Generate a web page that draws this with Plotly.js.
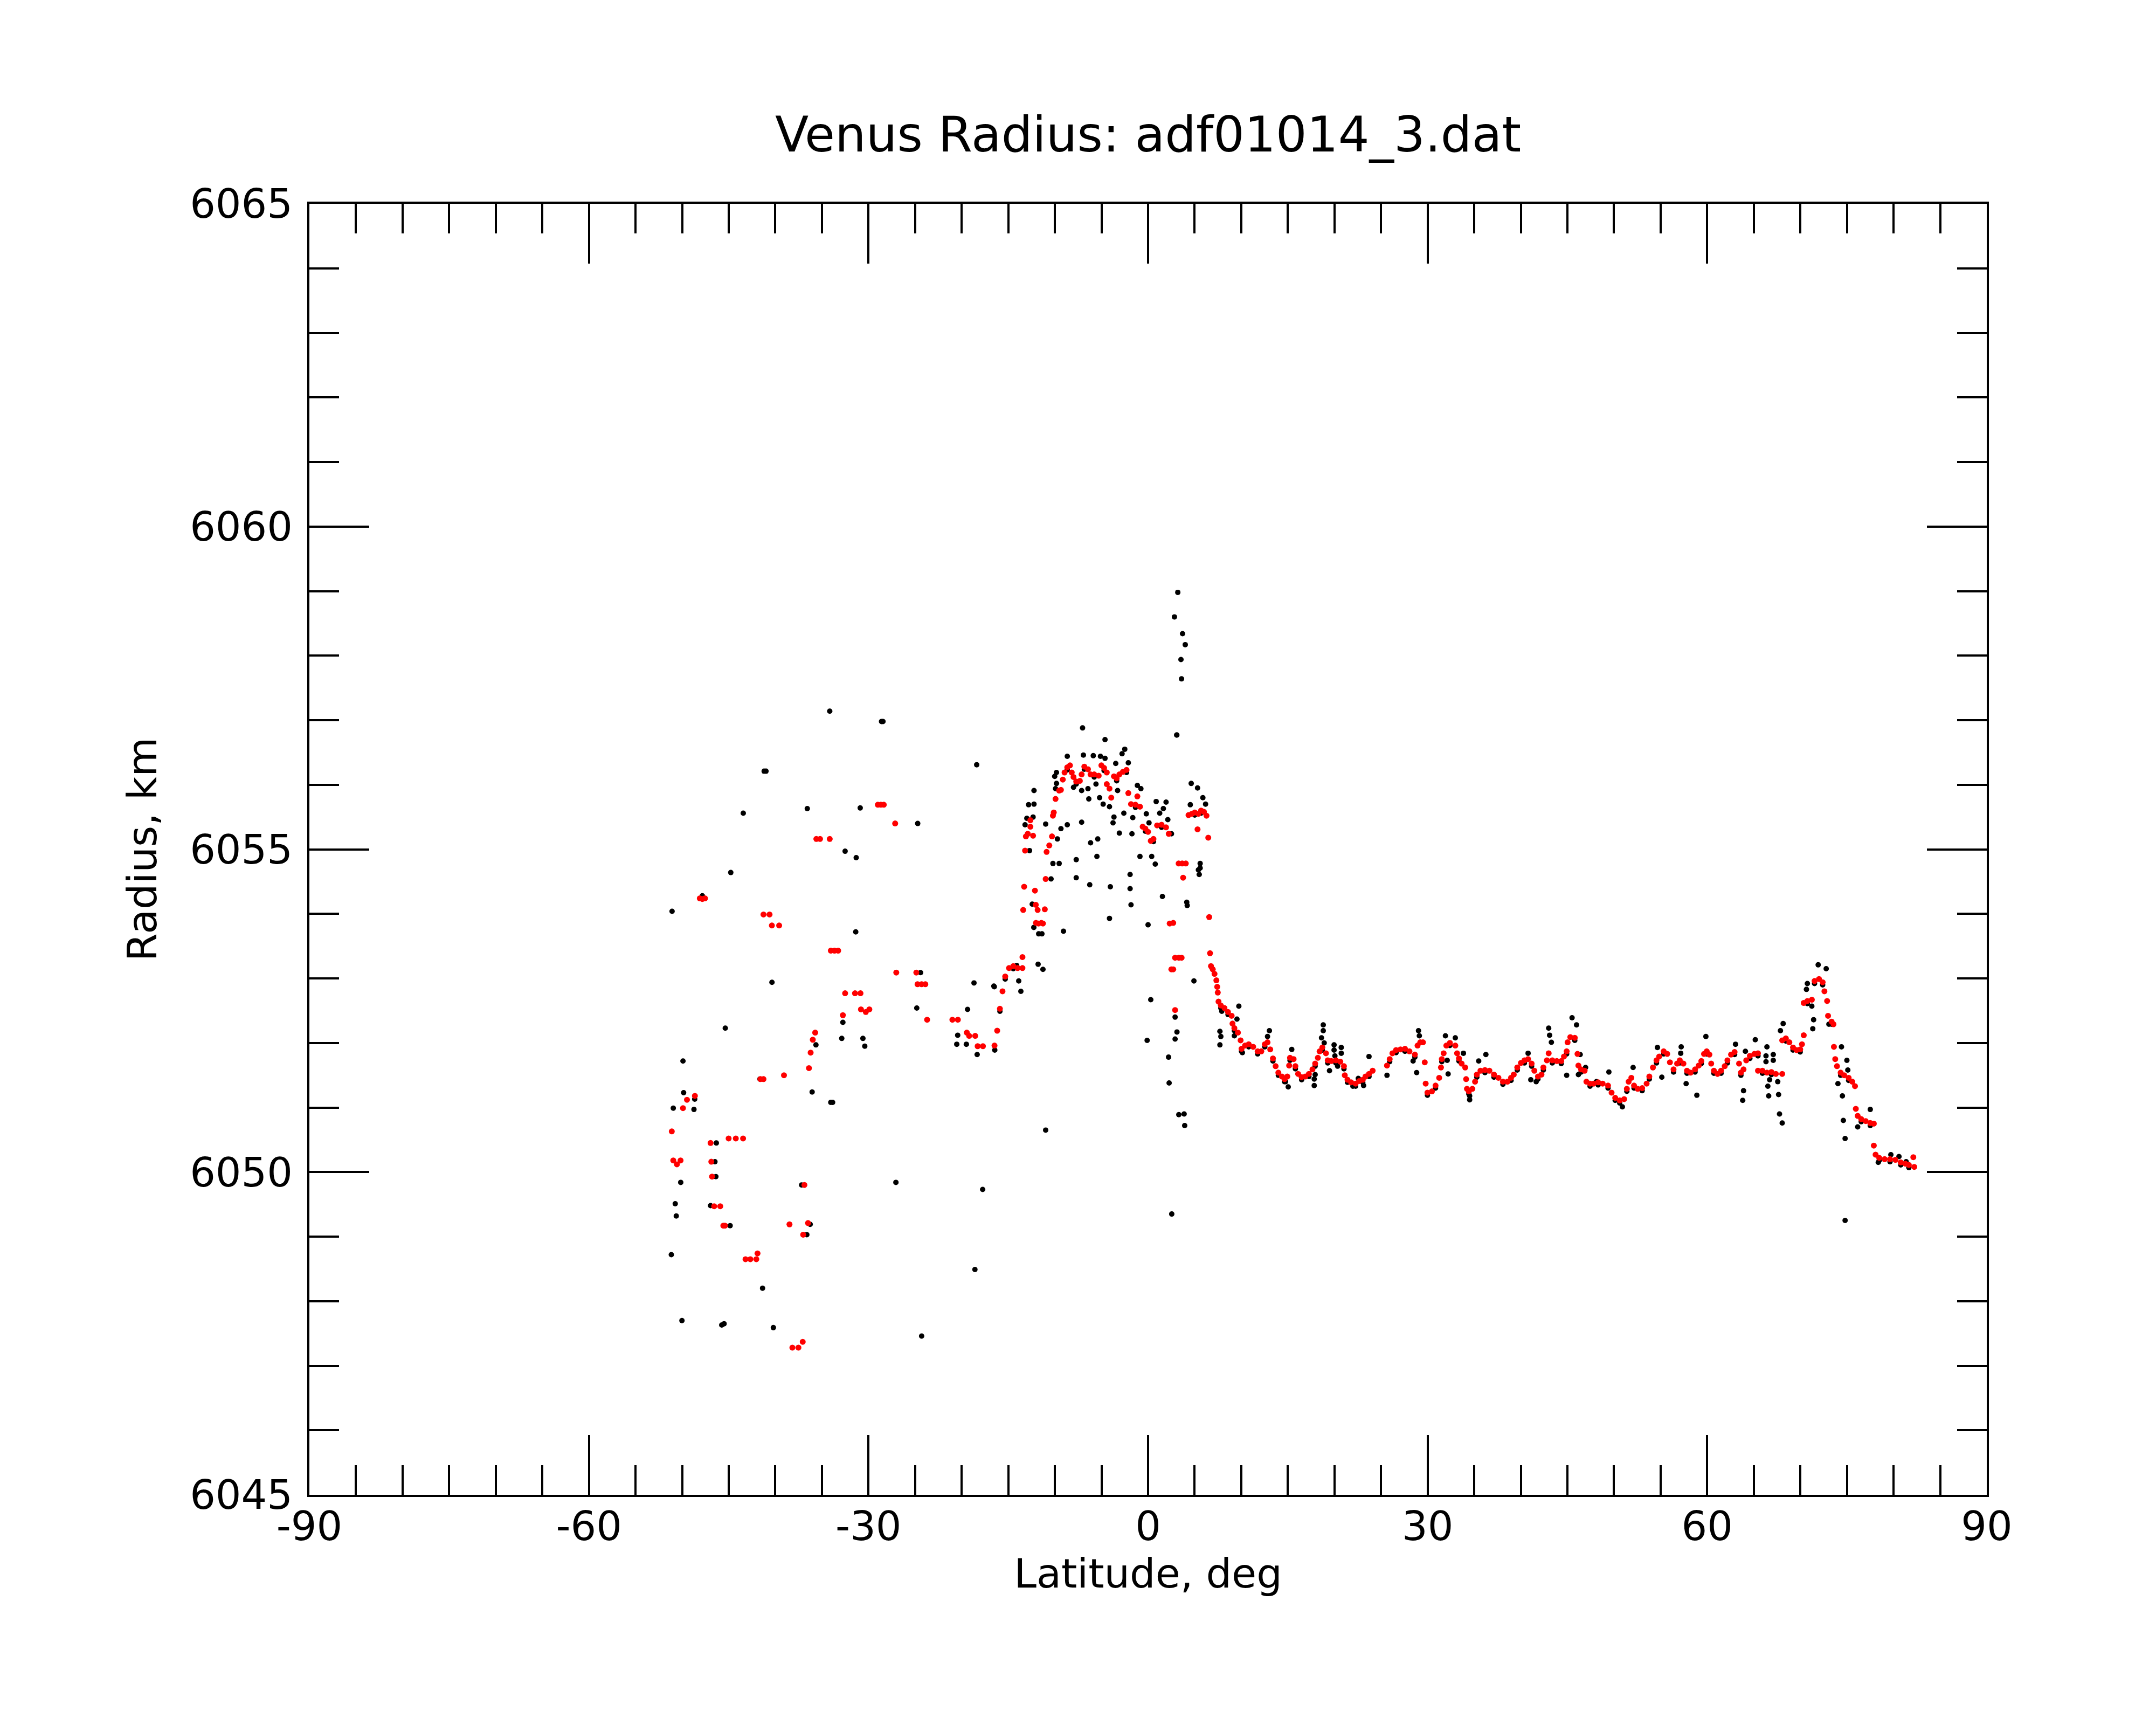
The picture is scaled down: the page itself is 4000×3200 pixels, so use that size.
<!DOCTYPE html>
<html>
<head>
<meta charset="utf-8">
<script src="https://cdn.plot.ly/plotly-3.0.1.min.js"></script>
<style>
  html, body { margin: 0; padding: 0; background: #fff; }
  #plot { width: 4000px; height: 3200px; }
</style>
</head>
<body>
<div id="plot"></div>
<script>
// Axis ticks
var xTickVals = [-90, -60, -30, 0, 30, 60, 90];
var xTickText = ["-90", "-60", "-30", "0", "30", "60", "90"];
var yTickVals = [6045, 6050, 6055, 6060, 6065];
var yTickText = ["6045", "6050", "6055", "6060", "6065"];

// Raw radius points, [latitude deg, radius km] (black)
var rawSouth = [
  [-34.16, 6057.14], [-28.60, 6056.98], [-28.45, 6056.98], [-18.39, 6056.31], [-41.20, 6056.21],
  [-41.00, 6056.21], [-36.57, 6055.63], [-30.89, 6055.64], [-43.44, 6055.56], [-24.72, 6055.40],
  [-32.51, 6054.97], [-31.32, 6054.87], [-44.78, 6054.64], [-51.08, 6054.04], [-47.83, 6054.28],
  [-31.37, 6053.72], [-40.36, 6052.94], [-24.41, 6053.09], [-18.68, 6052.93], [-16.55, 6052.88],
  [-24.82, 6052.54], [-19.37, 6052.52], [-45.37, 6052.23], [-32.75, 6052.32], [-32.87, 6052.07],
  [-30.60, 6052.07], [-30.40, 6051.95], [-35.64, 6051.97], [-20.43, 6052.12], [-20.53, 6051.98],
  [-19.50, 6051.98], [-18.34, 6051.82], [-16.45, 6051.89], [-49.91, 6051.72], [-49.84, 6051.23],
  [-50.95, 6050.99], [-48.73, 6050.97], [-48.65, 6051.13], [-36.05, 6051.24], [-34.05, 6051.08],
  [-33.85, 6051.08], [-41.65, 6051.44], [-46.33, 6050.45], [-46.48, 6050.16], [-46.38, 6049.93],
  [-50.15, 6049.84], [-50.74, 6049.51], [-50.63, 6049.32], [-46.95, 6049.48], [-44.85, 6049.17],
  [-37.18, 6049.80], [-36.26, 6049.19], [-36.62, 6049.03], [-27.06, 6049.84], [-17.75, 6049.73],
  [-51.16, 6048.72], [-41.37, 6048.20], [-18.58, 6048.49], [-50.02, 6047.70], [-45.75, 6047.63],
  [-45.50, 6047.65], [-40.21, 6047.59], [-24.30, 6047.46], [-16.50, 6052.87], [-15.90, 6052.49],
  [-15.33, 6052.99], [-14.46, 6053.15], [-14.10, 6053.20], [-13.88, 6052.96], [-13.65, 6052.80]
];

var rawEquator = [
  [-11.80, 6053.22], [-11.28, 6053.14], [-10.99, 6050.65], [-9.08, 6053.73], [-12.26, 6053.79],
  [-11.74, 6053.69], [-11.39, 6053.69], [-7.03, 6056.88], [-4.62, 6056.70], [3.09, 6056.77],
  [-2.50, 6056.55], [-2.79, 6056.48], [-8.67, 6056.44], [-6.94, 6056.46], [-5.88, 6056.45],
  [-5.11, 6056.44], [-4.62, 6056.41], [-2.12, 6056.34], [-3.47, 6056.33], [-9.83, 6056.19],
  [-10.02, 6056.13], [-9.83, 6056.02], [-9.93, 6055.94], [-8.00, 6055.96], [-7.13, 6055.91],
  [-6.45, 6055.94], [-5.59, 6056.01], [-12.24, 6055.91], [-12.82, 6055.69], [-12.24, 6055.70],
  [-13.01, 6055.48], [-12.34, 6055.50], [-13.20, 6055.38], [-12.72, 6054.98], [-10.99, 6055.39],
  [-9.35, 6055.32], [-8.67, 6055.38], [-7.13, 6055.42], [-9.73, 6055.16], [-6.36, 6055.78],
  [-5.20, 6055.80], [-4.82, 6055.70], [-4.14, 6055.66], [-3.27, 6055.91], [-2.60, 6055.56],
  [-1.64, 6055.49], [-3.66, 6055.50], [-3.76, 6055.41], [-1.15, 6055.99], [-0.77, 6055.94],
  [-3.08, 6055.25], [-1.73, 6055.24], [-6.17, 6055.10], [-5.40, 6055.16], [-10.21, 6054.78],
  [-9.54, 6054.78], [-7.71, 6054.84], [-5.49, 6054.89], [-7.71, 6054.56], [-10.41, 6054.54],
  [-6.26, 6054.45], [-4.05, 6054.42], [-1.93, 6054.61], [-1.93, 6054.39], [-1.83, 6054.14],
  [-4.14, 6053.93], [-0.87, 6054.89], [0.39, 6054.89], [0.77, 6054.77], [0.00, 6053.83],
  [1.54, 6054.27], [4.15, 6054.18], [4.20, 6054.13], [0.87, 6055.74], [1.93, 6055.73],
  [1.64, 6055.63], [1.25, 6055.56], [-0.19, 6055.55], [2.12, 6055.46], [0.10, 6055.41],
  [2.51, 6055.24], [4.63, 6056.02], [5.31, 6055.95], [5.88, 6055.80], [6.17, 6055.70],
  [4.53, 6055.69], [5.59, 6054.78], [5.59, 6054.71], [5.49, 6054.61], [5.40, 6054.68],
  [-12.43, 6054.15], [3.19, 6058.98], [2.83, 6058.60], [3.70, 6058.34], [3.99, 6058.17],
  [3.53, 6057.94], [3.59, 6057.64], [3.07, 6056.77], [2.54, 6049.35], [2.20, 6051.78],
  [2.26, 6051.38], [3.30, 6050.89], [3.87, 6050.90], [3.93, 6050.72], [4.92, 6052.96],
  [-0.10, 6052.04], [0.29, 6052.67], [2.90, 6052.40], [3.10, 6052.17], [2.90, 6052.06],
  [-8.67, 6056.23], [-7.71, 6056.01], [-6.84, 6056.24], [-5.78, 6056.12], [-4.72, 6056.22],
  [-3.37, 6056.06], [-2.31, 6056.19], [-1.35, 6055.65], [-0.29, 6055.28], [0.58, 6055.12],
  [1.45, 6055.34], [5.01, 6055.53], [5.69, 6055.56]
];

var rawNorth = [
  [7.71, 6052.18], [7.81, 6052.10], [7.71, 6051.97], [9.74, 6052.57], [9.54, 6052.37],
  [9.26, 6052.11], [7.91, 6052.49], [13.02, 6052.19], [12.82, 6052.10], [10.12, 6051.85],
  [15.04, 6051.32], [14.75, 6051.40], [15.42, 6051.90], [17.83, 6051.34], [17.83, 6051.44],
  [17.93, 6051.51], [18.80, 6052.28], [18.80, 6052.19], [18.61, 6052.08], [18.90, 6052.00],
  [19.96, 6051.97], [19.96, 6051.89], [20.05, 6051.80], [20.73, 6051.93], [20.73, 6051.84],
  [19.47, 6051.57], [20.34, 6051.64], [23.71, 6051.79], [25.64, 6051.50], [28.82, 6051.54],
  [29.02, 6052.19], [29.11, 6052.11], [28.44, 6051.72], [22.56, 6051.45], [21.98, 6051.33],
  [23.13, 6051.34], [31.91, 6052.11], [32.97, 6052.08], [32.10, 6051.73], [32.20, 6051.52],
  [33.84, 6051.84], [34.51, 6051.12], [34.51, 6051.18], [36.25, 6051.82], [35.48, 6051.72],
  [40.78, 6051.84], [41.07, 6051.43], [41.65, 6051.40], [42.99, 6052.23], [43.09, 6052.12],
  [43.28, 6052.01], [45.50, 6052.39], [45.98, 6052.28], [44.92, 6051.50], [46.18, 6051.51],
  [46.37, 6051.82], [46.95, 6051.62], [49.45, 6051.55], [48.11, 6051.40], [50.90, 6051.01],
  [52.05, 6051.62], [54.66, 6051.93], [59.86, 6052.10], [57.21, 6051.94], [57.16, 6051.84],
  [57.74, 6051.37], [58.89, 6051.19], [55.13, 6051.47], [63.04, 6051.98], [65.16, 6052.05],
  [64.10, 6051.87], [66.41, 6051.94], [66.31, 6051.80], [66.31, 6051.71], [67.09, 6051.82],
  [67.09, 6051.73], [66.70, 6051.43], [66.51, 6051.33], [67.57, 6051.40], [63.90, 6051.26],
  [63.81, 6051.11], [66.60, 6051.18], [67.66, 6051.20], [67.76, 6050.90], [68.05, 6050.76],
  [68.15, 6052.30], [67.86, 6052.19], [70.75, 6052.92], [70.65, 6052.83], [71.91, 6053.21],
  [72.77, 6053.15], [71.23, 6052.57], [71.42, 6052.36], [71.33, 6052.22], [73.06, 6052.29],
  [74.41, 6051.94], [74.99, 6051.73], [75.09, 6051.58], [74.03, 6051.37], [74.51, 6051.18],
  [74.61, 6050.80], [74.80, 6050.52], [77.50, 6050.97], [76.15, 6050.70], [78.36, 6050.15],
  [79.71, 6050.27], [80.58, 6050.24], [81.35, 6050.16], [74.80, 6049.25],
  [7.81, 6052.54], [8.58, 6052.44], [9.26, 6052.19], [10.03, 6051.87], [10.80, 6051.94],
  [11.76, 6051.83], [12.53, 6051.94], [13.40, 6051.72], [13.98, 6051.50], [14.65, 6051.40],
  [15.23, 6051.73], [15.81, 6051.60], [16.48, 6051.43], [17.26, 6051.48], [17.93, 6051.64],
  [18.70, 6051.89], [19.28, 6051.69], [20.15, 6051.69], [21.02, 6051.60], [21.40, 6051.39],
  [22.27, 6051.33], [23.04, 6051.39], [23.71, 6051.48], [25.93, 6051.71], [26.61, 6051.85],
  [27.57, 6051.87], [28.63, 6051.78], [29.98, 6051.19], [30.85, 6051.30], [31.52, 6051.71],
  [32.39, 6051.96], [33.36, 6051.72], [34.42, 6051.21], [35.28, 6051.47], [36.15, 6051.54],
  [37.12, 6051.47], [38.08, 6051.36], [38.95, 6051.42], [39.62, 6051.58], [40.39, 6051.69],
  [41.16, 6051.64], [41.84, 6051.44], [42.42, 6051.58], [43.38, 6051.69], [44.34, 6051.68],
  [44.92, 6051.83], [45.79, 6052.04], [46.47, 6051.55], [47.43, 6051.33], [48.30, 6051.35],
  [49.36, 6051.30], [50.13, 6051.11], [50.61, 6051.07], [51.38, 6051.25], [52.15, 6051.30],
  [53.02, 6051.26], [53.79, 6051.44], [54.56, 6051.69], [55.33, 6051.83], [56.39, 6051.55],
  [57.06, 6051.69], [57.83, 6051.53], [58.70, 6051.55], [59.37, 6051.68], [59.95, 6051.83],
  [60.72, 6051.53], [61.49, 6051.53], [62.17, 6051.69], [62.94, 6051.82], [63.62, 6051.50],
  [64.58, 6051.76], [65.45, 6051.80], [65.93, 6051.53], [66.89, 6051.51], [68.44, 6052.03],
  [69.21, 6051.89], [69.98, 6051.86], [70.75, 6052.61], [71.52, 6052.92], [72.39, 6052.90],
  [73.35, 6052.29], [74.32, 6051.50], [75.18, 6051.42], [76.53, 6050.78], [77.50, 6050.72],
  [78.46, 6050.18], [79.62, 6050.16], [80.77, 6050.11], [81.64, 6050.07]
];

// Smoothed radius points (red)
var smoothSouth = [
  [-51.11, 6050.63], [-50.95, 6050.18], [-50.56, 6050.12], [-50.17, 6050.18], [-49.91, 6050.99],
  [-49.48, 6051.12], [-48.63, 6051.18], [-48.10, 6054.24], [-47.83, 6054.23], [-47.55, 6054.24],
  [-46.95, 6050.45], [-46.87, 6050.16], [-46.79, 6049.93], [-46.56, 6049.47], [-45.91, 6049.47],
  [-45.58, 6049.17], [-45.40, 6049.17], [-45.01, 6050.52], [-44.24, 6050.52], [-43.46, 6050.52],
  [-43.20, 6048.65], [-42.68, 6048.65], [-42.04, 6048.65], [-41.91, 6048.74], [-41.60, 6051.44],
  [-41.27, 6051.44], [-41.27, 6053.99], [-40.62, 6053.99], [-40.37, 6053.82], [-39.59, 6053.82],
  [-39.07, 6051.50], [-38.48, 6049.19], [-38.17, 6047.28], [-37.52, 6047.28], [-37.06, 6047.37],
  [-37.01, 6049.03], [-36.88, 6049.80], [-36.49, 6049.21], [-36.39, 6051.61], [-36.21, 6051.85],
  [-35.98, 6052.05], [-35.72, 6052.16], [-35.60, 6055.16], [-35.20, 6055.16], [-34.16, 6055.16],
  [-34.04, 6053.43], [-33.65, 6053.43], [-33.26, 6053.43], [-32.75, 6052.43], [-32.51, 6052.77],
  [-31.45, 6052.77], [-30.86, 6052.77], [-30.81, 6052.52], [-30.29, 6052.48], [-29.91, 6052.52],
  [-29.00, 6055.69], [-28.68, 6055.69], [-28.36, 6055.69], [-27.14, 6055.40], [-27.02, 6053.09],
  [-24.87, 6053.09], [-24.74, 6052.91], [-24.30, 6052.91], [-23.90, 6052.91], [-23.71, 6052.36],
  [-21.00, 6052.36], [-20.41, 6052.36], [-19.45, 6052.16], [-19.20, 6052.11], [-18.55, 6052.11],
  [-18.29, 6051.95], [-17.72, 6051.95], [-16.48, 6051.96], [-16.19, 6052.19], [-15.90, 6052.53],
  [-15.62, 6052.80], [-15.33, 6053.03], [-14.92, 6053.16], [-14.46, 6053.19], [-14.00, 6053.16],
  [-13.48, 6053.16], [-13.48, 6053.33]
];

var smoothEquator = [
  [-13.40, 6054.06], [-13.30, 6054.42], [-13.20, 6054.98], [-13.11, 6055.20], [-12.91, 6055.24],
  [-12.63, 6055.35], [-12.63, 6055.45], [-12.34, 6055.21], [-12.14, 6054.36], [-12.05, 6054.14],
  [-12.03, 6053.86], [-11.85, 6054.06], [-11.76, 6053.85], [-11.45, 6053.86], [-11.28, 6053.85],
  [-11.08, 6054.07], [-10.99, 6054.54], [-10.89, 6054.96], [-10.60, 6055.06], [-10.31, 6055.20],
  [-10.21, 6055.52], [-10.12, 6055.57], [-9.93, 6055.78], [-9.54, 6055.91], [-9.35, 6055.92],
  [-9.15, 6056.08], [-8.96, 6056.19], [-8.67, 6056.27], [-8.38, 6056.30], [-8.19, 6056.19],
  [-8.00, 6056.12], [-7.71, 6056.05], [-7.32, 6056.06], [-7.13, 6056.16], [-6.84, 6056.28],
  [-6.45, 6056.24], [-6.17, 6056.16], [-5.78, 6056.16], [-5.30, 6056.14], [-5.01, 6056.30],
  [-4.72, 6056.26], [-4.43, 6056.19], [-4.43, 6056.01], [-4.14, 6055.94], [-3.95, 6055.80],
  [-3.66, 6056.13], [-3.37, 6056.10], [-3.08, 6056.16], [-2.70, 6056.20], [-2.31, 6056.23],
  [-2.12, 6055.87], [-1.83, 6055.70], [-1.35, 6055.69], [-1.15, 6055.82], [-0.87, 6055.66],
  [-0.58, 6055.35], [-0.29, 6055.32], [0.00, 6055.27], [0.29, 6055.13], [0.58, 6055.16],
  [0.97, 6055.37], [1.45, 6055.38], [1.93, 6055.34], [2.22, 6055.24], [2.32, 6053.85],
  [2.70, 6053.86], [2.50, 6053.14], [2.70, 6053.14], [2.90, 6053.32], [3.30, 6053.32],
  [3.60, 6053.32], [2.90, 6052.51], [3.28, 6054.78], [3.66, 6054.78], [4.05, 6054.78],
  [3.76, 6054.56], [4.34, 6055.53], [4.70, 6055.55], [5.01, 6055.57], [5.31, 6055.31],
  [5.40, 6055.55], [5.69, 6055.60], [6.00, 6055.58], [6.27, 6055.52], [6.46, 6055.18],
  [6.56, 6053.95]
];

var smoothNorth = [
  [6.65, 6053.39], [6.75, 6053.19], [6.94, 6053.14], [7.13, 6053.07], [7.33, 6052.97],
  [7.42, 6052.87], [7.48, 6052.78], [7.56, 6052.64], [7.81, 6052.58], [8.20, 6052.54],
  [8.58, 6052.48], [8.97, 6052.42], [9.06, 6052.30], [9.26, 6052.23], [9.64, 6052.16],
  [9.93, 6052.04], [10.03, 6051.91], [10.41, 6051.96], [10.80, 6051.98], [11.28, 6051.94],
  [11.76, 6051.87], [12.15, 6051.87], [12.53, 6051.98], [12.82, 6052.01], [13.11, 6051.90],
  [13.40, 6051.76], [13.69, 6051.64], [13.98, 6051.54], [14.36, 6051.48], [14.65, 6051.44],
  [14.94, 6051.48], [15.14, 6051.65], [15.23, 6051.77], [15.62, 6051.75], [15.81, 6051.64],
  [16.10, 6051.52], [16.48, 6051.47], [16.87, 6051.48], [17.26, 6051.52], [17.64, 6051.59],
  [17.93, 6051.68], [18.22, 6051.77], [18.41, 6051.87], [18.70, 6051.93], [19.09, 6051.84],
  [19.28, 6051.73], [19.67, 6051.72], [20.15, 6051.73], [20.63, 6051.71], [21.02, 6051.64],
  [21.11, 6051.50], [21.40, 6051.43], [21.79, 6051.39], [22.27, 6051.37], [22.65, 6051.41],
  [23.04, 6051.43], [23.33, 6051.48], [23.71, 6051.52], [24.10, 6051.57], [25.64, 6051.65],
  [25.93, 6051.75], [26.22, 6051.84], [26.61, 6051.89], [27.09, 6051.90], [27.57, 6051.91],
  [28.05, 6051.87], [28.63, 6051.82], [28.92, 6051.96], [29.21, 6052.01], [29.50, 6052.01],
  [29.69, 6051.70], [29.79, 6051.37], [29.98, 6051.23], [30.46, 6051.25], [30.85, 6051.34],
  [31.24, 6051.46], [31.43, 6051.62], [31.52, 6051.75], [31.72, 6051.84], [32.01, 6051.96],
  [32.39, 6052.00], [32.97, 6051.96], [33.16, 6051.84], [33.36, 6051.76], [33.65, 6051.68],
  [34.03, 6051.62], [34.13, 6051.44], [34.22, 6051.29], [34.42, 6051.25], [34.80, 6051.29],
  [35.09, 6051.40], [35.28, 6051.51], [35.67, 6051.57], [36.15, 6051.58], [36.63, 6051.57],
  [37.12, 6051.51], [37.60, 6051.46], [38.08, 6051.40], [38.56, 6051.40], [38.95, 6051.46],
  [39.24, 6051.51], [39.62, 6051.62], [40.01, 6051.69], [40.39, 6051.73], [40.78, 6051.75],
  [41.16, 6051.68], [41.45, 6051.57], [41.84, 6051.48], [42.22, 6051.51], [42.42, 6051.62],
  [42.80, 6051.73], [42.99, 6051.84], [43.38, 6051.73], [43.86, 6051.72], [44.34, 6051.72],
  [44.63, 6051.79], [44.92, 6051.87], [45.02, 6052.01], [45.31, 6052.09], [45.79, 6052.08],
  [46.08, 6051.83], [46.18, 6051.65], [46.47, 6051.59], [46.85, 6051.57], [47.04, 6051.40],
  [47.43, 6051.37], [47.82, 6051.37], [48.30, 6051.39], [48.78, 6051.37], [49.36, 6051.34],
  [49.74, 6051.23], [50.13, 6051.15], [50.61, 6051.11], [51.09, 6051.13], [51.38, 6051.29],
  [51.57, 6051.40], [51.86, 6051.46], [52.15, 6051.34], [52.54, 6051.29], [53.02, 6051.30],
  [53.50, 6051.37], [53.79, 6051.48], [54.18, 6051.62], [54.56, 6051.73], [54.85, 6051.79],
  [55.33, 6051.87], [55.71, 6051.83], [56.00, 6051.70], [56.39, 6051.59], [56.77, 6051.68],
  [57.06, 6051.73], [57.45, 6051.68], [57.83, 6051.57], [58.22, 6051.54], [58.70, 6051.59],
  [59.09, 6051.65], [59.37, 6051.72], [59.66, 6051.83], [59.95, 6051.87], [60.24, 6051.82],
  [60.43, 6051.68], [60.72, 6051.57], [61.11, 6051.52], [61.49, 6051.57], [61.88, 6051.64],
  [62.17, 6051.73], [62.56, 6051.82], [62.94, 6051.86], [63.42, 6051.68], [63.62, 6051.54],
  [63.90, 6051.59], [64.19, 6051.73], [64.58, 6051.80], [65.06, 6051.83], [65.45, 6051.84],
  [65.45, 6051.57], [65.93, 6051.57], [66.41, 6051.54], [66.89, 6051.55], [67.37, 6051.52],
  [68.05, 6051.52], [68.05, 6052.04], [68.44, 6052.07], [68.82, 6052.01], [69.21, 6051.93],
  [69.59, 6051.89], [69.98, 6051.90], [70.17, 6051.98], [70.36, 6052.12], [70.36, 6052.62],
  [70.75, 6052.65], [71.23, 6052.67], [71.52, 6052.96], [72.00, 6052.99], [72.39, 6052.94],
  [72.58, 6052.80], [72.87, 6052.65], [72.97, 6052.42], [73.35, 6052.33], [73.55, 6052.29],
  [73.60, 6051.94], [73.74, 6051.75], [73.93, 6051.64], [74.32, 6051.54], [74.70, 6051.50],
  [75.18, 6051.46], [75.57, 6051.40], [75.86, 6051.33], [75.95, 6050.98], [76.15, 6050.87],
  [76.53, 6050.82], [77.01, 6050.79], [77.50, 6050.76], [77.88, 6050.75], [77.88, 6050.41],
  [78.07, 6050.27], [78.46, 6050.22], [79.04, 6050.20], [79.62, 6050.20], [80.20, 6050.19],
  [80.77, 6050.15], [81.26, 6050.13], [81.64, 6050.11], [82.12, 6050.23], [82.22, 6050.08]
];

var raw = rawSouth.concat(rawEquator, rawNorth);
var smooth = smoothSouth.concat(smoothEquator, smoothNorth);

var traceRaw = {
  x: raw.map(function (p) { return p[0]; }),
  y: raw.map(function (p) { return p[1]; }),
  type: 'scatter',
  mode: 'markers',
  marker: { color: '#000000', size: 10 },
  hoverinfo: 'x+y'
};

var traceSmooth = {
  x: smooth.map(function (p) { return p[0]; }),
  y: smooth.map(function (p) { return p[1]; }),
  type: 'scatter',
  mode: 'markers',
  marker: { color: '#ff0000', size: 11 },
  hoverinfo: 'x+y'
};

var tickFont = { family: 'DejaVu Sans', size: 75, color: '#000000' };

var layout = {
  width: 4000,
  height: 3200,
  paper_bgcolor: '#ffffff',
  plot_bgcolor: '#ffffff',
  showlegend: false,
  margin: { l: 574, r: 314, t: 378, b: 427 },
  font: { family: 'DejaVu Sans', color: '#000000' },
  title: {
    text: 'Venus Radius: adf01014_3.dat',
    font: { family: 'DejaVu Sans', size: 91, color: '#000000' },
    x: 0.5325,
    xanchor: 'center',
    y: 0.922,
    yanchor: 'middle'
  },
  xaxis: {
    range: [-90, 90],
    tickmode: 'array',
    tickvals: xTickVals,
    ticktext: xTickText,
    ticks: 'inside',
    ticklen: 111,
    tickwidth: 4,
    tickcolor: '#000000',
    minor: { dtick: 5, ticks: 'inside', ticklen: 55, tickwidth: 4, tickcolor: '#000000', showgrid: false },
    mirror: 'ticks',
    showline: true,
    linewidth: 4,
    linecolor: '#000000',
    showgrid: false,
    zeroline: false,
    tickfont: tickFont,
    ticklabelstandoff: -10,
    title: { text: 'Latitude, deg', font: tickFont, standoff: 2 }
  },
  yaxis: {
    range: [6045, 6065],
    tickmode: 'array',
    tickvals: yTickVals,
    ticktext: yTickText,
    ticks: 'inside',
    ticklen: 111,
    tickwidth: 4,
    tickcolor: '#000000',
    minor: { dtick: 1, ticks: 'inside', ticklen: 55, tickwidth: 4, tickcolor: '#000000', showgrid: false },
    mirror: 'ticks',
    showline: true,
    linewidth: 4,
    linecolor: '#000000',
    showgrid: false,
    zeroline: false,
    tickfont: tickFont,
    ticklabelstandoff: 12,
    title: { text: 'Radius, km', font: tickFont, standoff: 38 }
  }
};

Plotly.newPlot('plot', [traceRaw, traceSmooth], layout, { displayModeBar: false, staticPlot: true });
</script>
</body>
</html>
